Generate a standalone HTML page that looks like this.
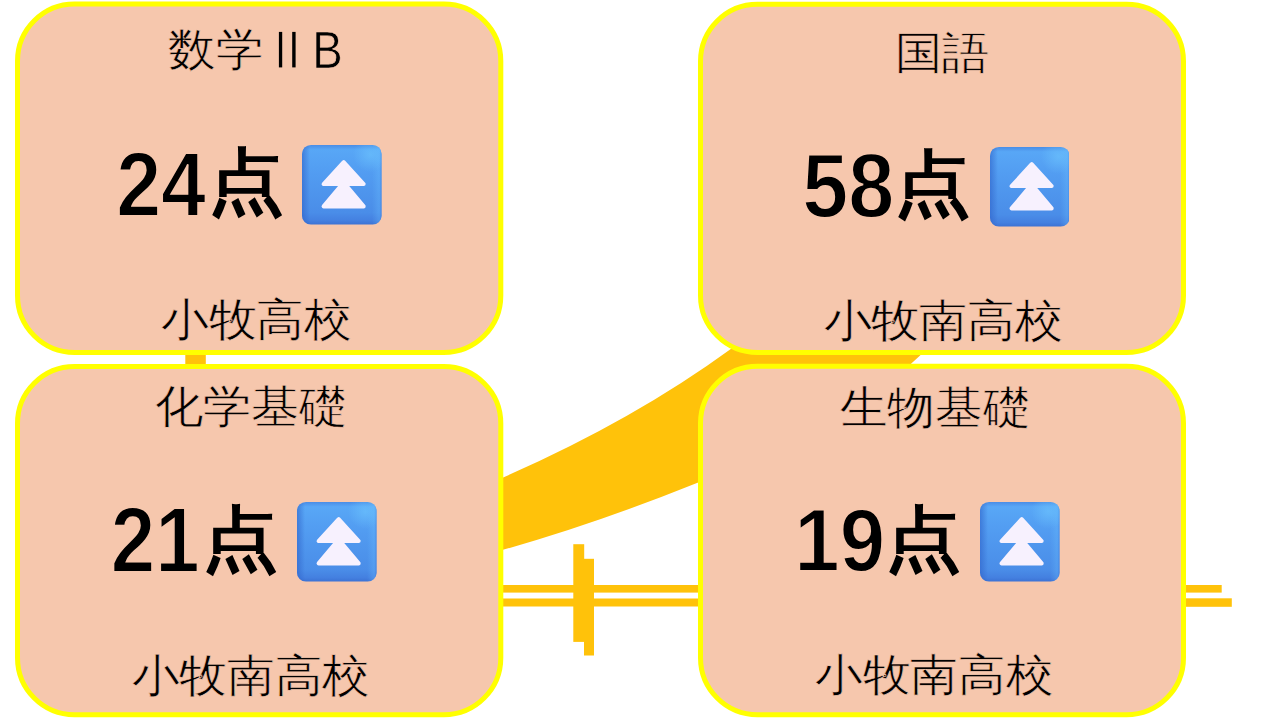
<!DOCTYPE html>
<html><head><meta charset="utf-8"><style>
html,body{margin:0;padding:0;background:#fff;width:1280px;height:720px;overflow:hidden}
body{position:relative;font-family:"Liberation Sans",sans-serif;color:#000}
svg.bg{position:absolute;left:0;top:0}
.t{position:absolute;left:0;top:0;font-size:100px;line-height:1;white-space:nowrap;transform-origin:0 0}
.ic{position:absolute}
</style></head><body>
<svg class="bg" width="1280" height="720" viewBox="0 0 1280 720">
<defs>
<linearGradient id="gv" x1="0" y1="0" x2="0" y2="1">
<stop offset="0" stop-color="#4A8DE6"/><stop offset="0.06" stop-color="#58A7F6"/><stop offset="0.3" stop-color="#539EF2"/><stop offset="0.85" stop-color="#4A8DE8"/><stop offset="0.95" stop-color="#4480E0"/><stop offset="1" stop-color="#3C72D4"/>
</linearGradient>
<linearGradient id="gh" x1="0" y1="0" x2="1" y2="0">
<stop offset="0" stop-color="#2F62C8" stop-opacity="0.6"/><stop offset="0.1" stop-color="#2F62C8" stop-opacity="0"/>
<stop offset="0.88" stop-color="#6CC0FF" stop-opacity="0"/><stop offset="0.97" stop-color="#6CC0FF" stop-opacity="0.3"/><stop offset="1" stop-color="#3A78DA" stop-opacity="0.4"/>
</linearGradient>
<radialGradient id="gr" cx="0.86" cy="0.12" r="0.22">
<stop offset="0" stop-color="#70C8FF" stop-opacity="0.55"/><stop offset="1" stop-color="#70C8FF" stop-opacity="0"/>
</radialGradient>
</defs>
<!-- connectors -->
<rect x="185.3" y="340" width="20.5" height="40" fill="#FFC20A"/>
<path d="M495 481 Q629.7 422.8 730.8 349 L760 328 L950 328 L920.6 355 L910.8 364 L880 392 L760 455 L698.2 482.5 Q590 526 495 552 Z" fill="#FFC20A"/>
<rect x="495" y="585" width="210" height="7.6" fill="#FFC20A"/>
<rect x="495" y="598.5" width="210" height="8.0" fill="#FFC20A"/>
<rect x="573.3" y="544.2" width="10.9" height="97.7" fill="#FFC20A"/>
<rect x="584" y="558.8" width="10" height="96.7" fill="#FFC20A"/>
<rect x="1180" y="585" width="41.7" height="7.6" fill="#FFC20A"/>
<rect x="1180" y="598.3" width="51.8" height="8.5" fill="#FFC20A"/>
<!-- boxes -->
<rect x="17.50" y="4.00" width="483.30" height="348.50" rx="57" fill="#F6C7AD" stroke="#FFFF00" stroke-width="5.0"/>
<rect x="17.50" y="366.50" width="483.30" height="348.20" rx="57" fill="#F6C7AD" stroke="#FFFF00" stroke-width="5.0"/>
<rect x="700.50" y="4.20" width="483.00" height="348.30" rx="57" fill="#F6C7AD" stroke="#FFFF00" stroke-width="5.0"/>
<rect x="700.50" y="366.30" width="483.00" height="348.40" rx="57" fill="#F6C7AD" stroke="#FFFF00" stroke-width="5.0"/>
<rect x="278.9" y="31.9" width="3.3" height="35.5" fill="#000"/><rect x="292.2" y="31.9" width="3.4" height="35.5" fill="#000"/>
</svg>
<div class="t" style="font-weight:400;-webkit-text-stroke:1.4px #F6C7AD;transform:translate(168.28px,27.46px) scale(0.4728,0.4473)">数学</div>
<div class="t" style="font-weight:400;-webkit-text-stroke:1.4px #F6C7AD;transform:translate(312.30px,23.50px) scale(0.4558,0.5179)">B</div>
<div class="t" style="font-weight:700;-webkit-text-stroke:2.0px #F6C7AD;transform:translate(116.17px,137.76px) scale(0.8075,0.9147)">24</div>
<div class="t" style="font-weight:700;transform:translate(207.83px,146.29px) scale(0.7615,0.7058)">点</div>
<div class="t" style="font-weight:400;-webkit-text-stroke:1.4px #F6C7AD;transform:translate(160.87px,296.95px) scale(0.4770,0.4485)">小牧高校</div>
<div class="t" style="font-weight:400;-webkit-text-stroke:1.4px #F6C7AD;transform:translate(154.86px,383.91px) scale(0.4813,0.4484)">化学基礎</div>
<div class="t" style="font-weight:700;-webkit-text-stroke:2.0px #F6C7AD;transform:translate(110.80px,493.89px) scale(0.7990,0.9191)">21</div>
<div class="t" style="font-weight:700;transform:translate(201.87px,503.30px) scale(0.7714,0.7039)">点</div>
<div class="t" style="font-weight:400;-webkit-text-stroke:1.4px #F6C7AD;transform:translate(131.77px,652.65px) scale(0.4768,0.4505)">小牧南高校</div>
<div class="t" style="font-weight:400;-webkit-text-stroke:1.4px #F6C7AD;transform:translate(894.94px,30.24px) scale(0.4738,0.4409)">国語</div>
<div class="t" style="font-weight:700;-webkit-text-stroke:2.0px #F6C7AD;transform:translate(802.16px,139.96px) scale(0.8284,0.9087)">58</div>
<div class="t" style="font-weight:700;transform:translate(894.06px,147.89px) scale(0.7725,0.7107)">点</div>
<div class="t" style="font-weight:400;-webkit-text-stroke:1.4px #F6C7AD;transform:translate(823.77px,298.05px) scale(0.4770,0.4464)">小牧南高校</div>
<div class="t" style="font-weight:400;-webkit-text-stroke:1.4px #F6C7AD;transform:translate(839.75px,384.30px) scale(0.4765,0.4505)">生物基礎</div>
<div class="t" style="font-weight:700;-webkit-text-stroke:2.0px #F6C7AD;transform:translate(794.29px,494.97px) scale(0.8162,0.8957)">19</div>
<div class="t" style="font-weight:700;transform:translate(885.27px,503.30px) scale(0.7714,0.7039)">点</div>
<div class="t" style="font-weight:400;-webkit-text-stroke:1.4px #F6C7AD;transform:translate(814.82px,653.06px) scale(0.4769,0.4402)">小牧南高校</div>
<svg class="ic" style="left:302.3px;top:145.3px" width="79.6" height="79.6" viewBox="0 0 80 80">
<rect x="0" y="0" width="80" height="80" rx="9" fill="url(#gv)"/>
<rect x="0" y="0" width="80" height="80" rx="9" fill="url(#gh)"/>
<rect x="0" y="0" width="80" height="80" rx="9" fill="url(#gr)"/>
<path d="M41.9 17.3 L21.7 39.3 L40.5 39.3 L21.7 61.7 L62.0 61.7 L43.2 39.3 L62.0 39.3 Z" fill="#F7F1FE" stroke="#F7F1FE" stroke-width="4" stroke-linejoin="round"/>
</svg>
<svg class="ic" style="left:297.2px;top:502.4px" width="79.6" height="79.6" viewBox="0 0 80 80">
<rect x="0" y="0" width="80" height="80" rx="9" fill="url(#gv)"/>
<rect x="0" y="0" width="80" height="80" rx="9" fill="url(#gh)"/>
<rect x="0" y="0" width="80" height="80" rx="9" fill="url(#gr)"/>
<path d="M41.9 17.3 L21.7 39.3 L40.5 39.3 L21.7 61.7 L62.0 61.7 L43.2 39.3 L62.0 39.3 Z" fill="#F7F1FE" stroke="#F7F1FE" stroke-width="4" stroke-linejoin="round"/>
</svg>
<svg class="ic" style="left:989.5px;top:147.3px" width="79.6" height="79.6" viewBox="0 0 80 80">
<rect x="0" y="0" width="80" height="80" rx="9" fill="url(#gv)"/>
<rect x="0" y="0" width="80" height="80" rx="9" fill="url(#gh)"/>
<rect x="0" y="0" width="80" height="80" rx="9" fill="url(#gr)"/>
<path d="M41.9 17.3 L21.7 39.3 L40.5 39.3 L21.7 61.7 L62.0 61.7 L43.2 39.3 L62.0 39.3 Z" fill="#F7F1FE" stroke="#F7F1FE" stroke-width="4" stroke-linejoin="round"/>
</svg>
<svg class="ic" style="left:980.4px;top:502.4px" width="79.6" height="79.6" viewBox="0 0 80 80">
<rect x="0" y="0" width="80" height="80" rx="9" fill="url(#gv)"/>
<rect x="0" y="0" width="80" height="80" rx="9" fill="url(#gh)"/>
<rect x="0" y="0" width="80" height="80" rx="9" fill="url(#gr)"/>
<path d="M41.9 17.3 L21.7 39.3 L40.5 39.3 L21.7 61.7 L62.0 61.7 L43.2 39.3 L62.0 39.3 Z" fill="#F7F1FE" stroke="#F7F1FE" stroke-width="4" stroke-linejoin="round"/>
</svg>
</body></html>
